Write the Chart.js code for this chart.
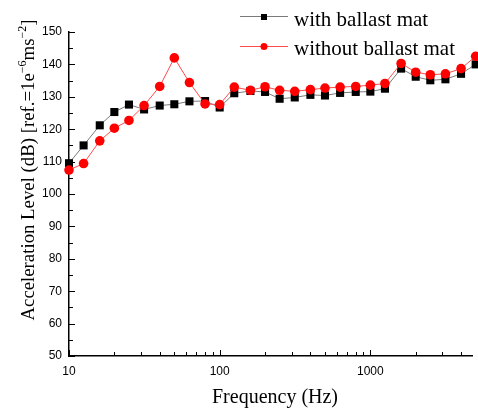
<!DOCTYPE html>
<html>
<head>
<meta charset="utf-8">
<script src="https://cdn.jsdelivr.net/npm/chart.js@4.4.1/dist/chart.umd.min.js"></script>
<style>
  html, body { margin: 0; padding: 0; background: #fff; }
  #wrap { width: 478px; height: 412px; position: relative; }
</style>
</head>
<body>
<div id="wrap"><canvas id="grafica"></canvas></div>
<script>
// one-third octave bands (Hz)
const frecuencias = [10, 12.5, 16, 20, 25, 31.5, 40, 50, 63, 80, 100, 125, 160, 200, 250, 315, 400, 500, 630, 800, 1000, 1250, 1600, 2000, 2500, 3150, 4000, 5000];
const conManta = [109.5, 115.0, 121.2, 125.3, 127.6, 126.1, 127.3, 127.7, 128.6, 128.7, 126.7, 131.1, 131.8, 131.5, 129.4, 129.8, 130.6, 130.4, 131.2, 131.5, 131.6, 132.5, 138.7, 136.2, 135.1, 135.4, 137.1, 140.0];
const sinManta = [107.4, 109.4, 116.4, 120.3, 122.7, 127.3, 133.2, 142.0, 134.4, 127.8, 127.6, 133.0, 132.0, 133.1, 132.0, 131.7, 132.2, 132.7, 133.0, 133.2, 133.6, 134.1, 140.3, 137.6, 136.8, 137.1, 138.7, 142.5];
const etiquetasX = [10, 100, 1000];
const menoresX = [20, 30, 40, 50, 60, 70, 80, 90, 200, 300, 400, 500, 600, 700, 800, 900, 2000, 3000, 4000];
const nombres = ['with ballast mat', 'without ballast mat'];

const SERIF = '"Liberation Serif", "Times New Roman", serif';
const SANS = '"Liberation Sans", Arial, sans-serif';

function puntos(valores) {
	return frecuencias.map((f, i) => ({ x: f, y: valores[i] }));
}

// inward ticks, titles and legend
const extras = {
	id: 'extras',
	afterDraw(chart) {
		const ctx = chart.ctx;
		const xs = chart.scales.x, ys = chart.scales.y;
		const area = chart.chartArea;
		ctx.save();
		ctx.strokeStyle = '#000';
		ctx.lineWidth = 1;
		// y ticks
		for (let v = 50; v <= 150; v += 5) {
			const py = Math.round(ys.getPixelForValue(v)) + 0.5;
			const len = v % 10 === 0 ? 6 : 4;
			ctx.beginPath();
			ctx.moveTo(area.left, py);
			ctx.lineTo(area.left + len, py);
			ctx.stroke();
		}
		// x ticks
		etiquetasX.concat(menoresX).forEach(v => {
			const px = Math.round(xs.getPixelForValue(v)) + 0.5;
			const len = etiquetasX.includes(v) ? 6 : 4;
			ctx.beginPath();
			ctx.moveTo(px, area.bottom);
			ctx.lineTo(px, area.bottom - len);
			ctx.stroke();
		});

		// x title
		ctx.fillStyle = '#000';
		ctx.font = '20px ' + SERIF;
		ctx.textAlign = 'center';
		ctx.textBaseline = 'alphabetic';
		ctx.fillText('Frequency (Hz)', 275, 403);

		// y title with superscripts
		const f = 18.8, fs = 12;
		const partes = [
			['Acceleration Level (dB) [ref.=1e', false],
			['\u22126', true],
			['ms', false],
			['\u22122', true],
			[']', false]
		];
		let total = 0;
		partes.forEach(p => {
			ctx.font = (p[1] ? fs : f) + 'px ' + SERIF;
			total += ctx.measureText(p[0]).width;
		});
		ctx.translate(34, 170);
		ctx.rotate(-Math.PI / 2);
		ctx.textAlign = 'left';
		let cx = -total / 2;
		partes.forEach(p => {
			ctx.font = (p[1] ? fs : f) + 'px ' + SERIF;
			ctx.fillText(p[0], cx, p[1] ? -8 : 0);
			cx += ctx.measureText(p[0]).width;
		});
		ctx.setTransform(1, 0, 0, 1, 0, 0);

		// legend
		const filas = [
			{ y: 16, base: 26, linea: '#7a7a7a', relleno: '#000', forma: 'rect' },
			{ y: 46, base: 55, linea: '#ff4a4a', relleno: '#ff0000', forma: 'circle' }
		];
		filas.forEach((r, i) => {
			ctx.strokeStyle = r.linea;
			ctx.lineWidth = 1;
			ctx.beginPath();
			ctx.moveTo(240, r.y + 0.5);
			ctx.lineTo(288, r.y + 0.5);
			ctx.stroke();
			ctx.fillStyle = r.relleno;
			if (r.forma === 'rect') {
				ctx.fillRect(261, r.y - 2, 6, 6);
			} else {
				ctx.beginPath();
				ctx.arc(264, r.y + 0.5, 3.5, 0, Math.PI * 2);
				ctx.fill();
			}
			ctx.fillStyle = '#000';
			ctx.font = '21px ' + SERIF;
			ctx.textAlign = 'left';
			ctx.fillText(nombres[i], 294, r.base);
		});
		ctx.restore();
	}
};

function crearGrafica() {
	const ctx = document.getElementById('grafica').getContext('2d');
	new Chart(ctx, {
		type: 'line',
		data: {
			datasets: [{
				label: nombres[0],
				data: puntos(conManta),
				borderColor: '#7a7a7a',
				borderWidth: 1,
				pointStyle: 'rect',
				pointRadius: 5.7,
				pointBackgroundColor: '#000',
				pointBorderColor: '#000',
				pointBorderWidth: 0,
				clip: false,
				order: 1
			}, {
				label: nombres[1],
				data: puntos(sinManta),
				borderColor: '#ff4a4a',
				borderWidth: 1,
				pointStyle: 'circle',
				pointRadius: 4.8,
				pointBackgroundColor: '#ff0000',
				pointBorderColor: '#ff0000',
				pointBorderWidth: 0,
				clip: false,
				order: 0
			}]
		},
		options: {
			responsive: true,
			maintainAspectRatio: false,
			animation: false,
			layout: { padding: { top: 32, left: 0, right: 0, bottom: 0 } },
			plugins: { legend: { display: false }, tooltip: { enabled: false } },
			scales: {
				x: {
					type: 'logarithmic',
					min: 10,
					max: 4750,
					afterFit: s => { s.height = 56; },
					afterBuildTicks: s => { s.ticks = etiquetasX.map(v => ({ value: v })); },
					grid: { display: false, drawTicks: false },
					border: { display: true, color: '#000', width: 1.5 },
					ticks: {
						autoSkip: false,
						maxRotation: 0,
						padding: 8,
						color: '#000',
						font: { family: SANS, size: 12 },
						callback: v => String(v)
					}
				},
				y: {
					min: 50,
					max: 150,
					afterFit: s => { s.width = 69; },
					grid: { display: false, drawTicks: false },
					border: { display: true, color: '#000', width: 1.5 },
					ticks: {
						stepSize: 10,
						padding: 7,
						color: '#000',
						font: { family: SANS, size: 12 }
					}
				}
			}
		},
		plugins: [extras]
	});
}

crearGrafica();
</script>
</body>
</html>
